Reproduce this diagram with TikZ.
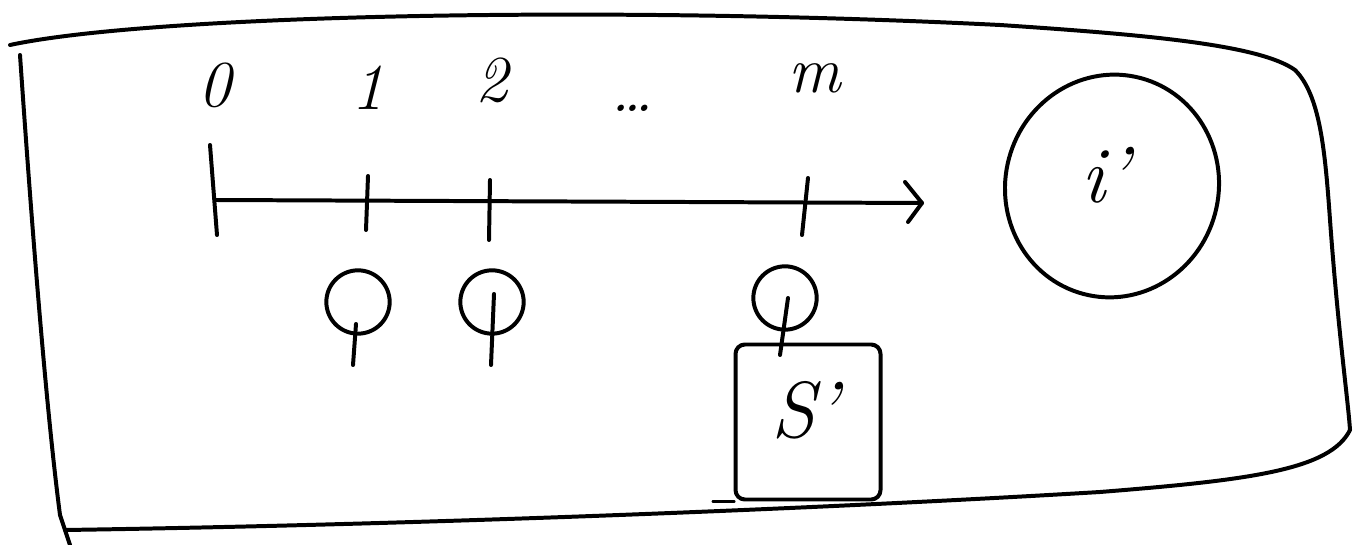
\documentclass[tikz,border=0pt]{standalone}
\usetikzlibrary{arrows.meta,shapes.geometric}
\begin{document}
\begin{tikzpicture}[x=0.03cm,y=-0.03cm,
  pen/.style={line width=3.4pt,line cap=round,line join=round,black},
  lbl/.style={font=\fontsize{56}{64}\selectfont\itshape,inner sep=0pt},
  big/.style={font=\fontsize{68}{76}\selectfont\itshape,inner sep=0pt},
  ring/.style={pen,draw,circle,minimum size=1.9cm,inner sep=0pt}]
\useasboundingbox (0,0) rectangle (1353,545);
% frame
\draw[pen] (10,45) .. controls (150,15) and (600,5) .. (1000,25)
  .. controls (1150,35) and (1260,45) .. (1295,70)
  .. controls (1320,95) and (1325,150) .. (1330,220)
  .. controls (1338,330) and (1348,400) .. (1350,430)
  .. controls (1330,470) and (1250,480) .. (1100,492)
  .. controls (800,510) and (400,525) .. (65,530);
\draw[pen] (20,55) .. controls (30,200) and (45,400) .. (60,515) -- (70,545);
% axis
\coordinate (a0) at (215,200);
\coordinate (aend) at (922,203);
\draw[pen] (a0) -- (aend);
\draw[pen] (905,182) -- (aend) -- (908,222);
% ticks
\coordinate (t0) at (210,145); \coordinate (t0b) at (217,235);
\coordinate (t1) at (368,176); \coordinate (t1b) at (366,230);
\coordinate (t2) at (490,180); \coordinate (t2b) at (489,240);
\coordinate (tm) at (808,178); \coordinate (tmb) at (802,235);
\draw[pen] (t0) -- (t0b);
\draw[pen] (t1) -- (t1b);
\draw[pen] (t2) -- (t2b);
\draw[pen] (tm) -- (tmb);
% labels
\node[lbl] (l0) at (215,85) {0};
\node[lbl] (l1) at (368,88) {1};
\node[lbl] (l2) at (492,80) {2};
\node[lbl,anchor=base] (ld) at (632,112) {\dots};
\node[lbl] (lm) at (815,78) {m};
% Q symbols
\node[ring] (q1) at (358,302) {};
\node[ring] (q2) at (492,302) {};
\node[ring] (qm) at (785,298) {};
\coordinate (s1) at (353,365);
\coordinate (s2) at (491,365);
\coordinate (sm) at (780,355);
\draw[pen] (q1.center) ++(-2,22) -- (s1);
\draw[pen] (q2.center) ++(2,-8) -- (s2);
\draw[pen] (qm.center) ++(3,0) -- (sm);
% box S'
\node[pen,draw,rounded corners=8pt,minimum width=4.35cm,minimum height=4.65cm,inner sep=0pt] (box) at (808,422) {};
\node[big] (S) at (805,410) {S'};
\draw[pen] (box.south west) ++(-20,0) -- (box.south west);
% ellipse i'
\node[pen,draw,ellipse,minimum width=6.4cm,minimum height=6.7cm,inner sep=0pt,rotate=-15] (eg) at (1112,186) {};
\node[big] (I) at (1105,175) {i'};
\end{tikzpicture}
\end{document}
